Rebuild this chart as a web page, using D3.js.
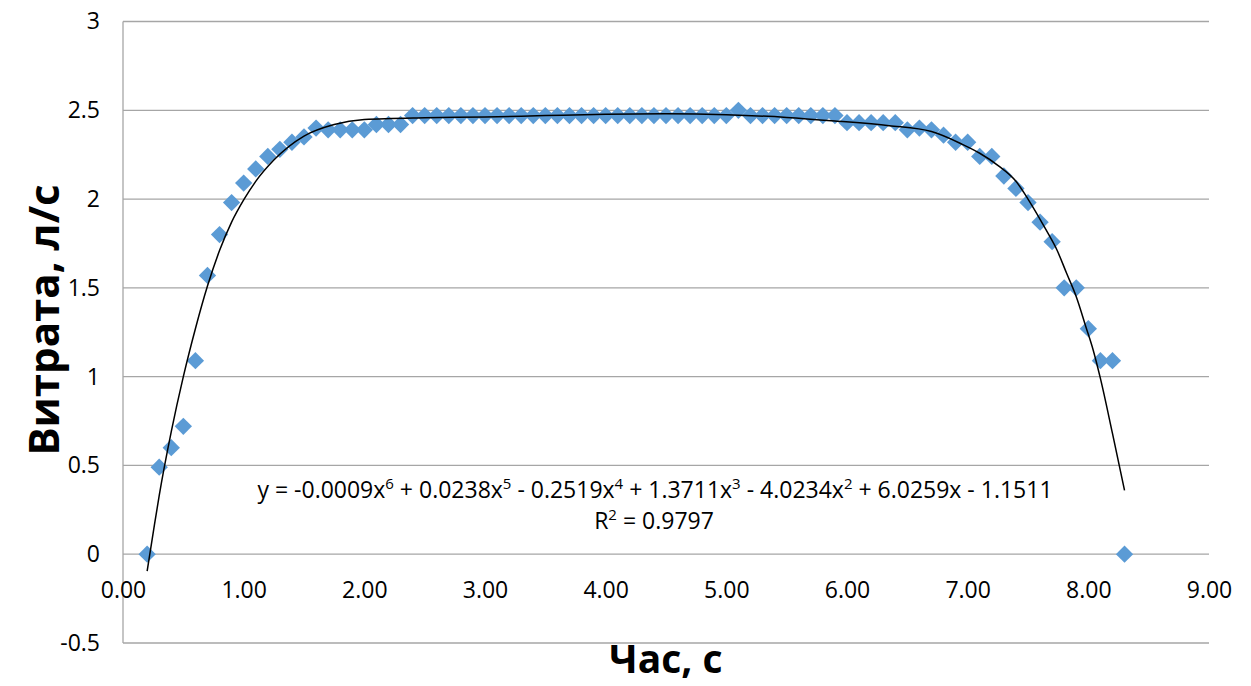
<!DOCTYPE html>
<html>
<head>
<meta charset="utf-8">
<script src="https://cdn.jsdelivr.net/npm/d3@7"></script>
<style>
  body { margin: 0; background: #fff; }
  text { font-family: "Open Sans", sans-serif; fill: #000; }
</style>
</head>
<body>
<div id="chart"></div>
<script>
// measured points: time (s) and flow (l/s)
var timeS = [0.2, 0.3, 0.4, 0.5, 0.6, 0.7, 0.8, 0.9, 1.0, 1.1, 1.2, 1.3, 1.4, 1.5, 1.6, 1.7, 1.8, 1.9, 2.0, 2.1,
  2.2, 2.3, 2.4, 2.5, 2.6, 2.7, 2.8, 2.9, 3.0, 3.1, 3.2, 3.3, 3.4, 3.5, 3.6, 3.7, 3.8, 3.9, 4.0, 4.1,
  4.2, 4.3, 4.4, 4.5, 4.6, 4.7, 4.8, 4.9, 5.0, 5.1, 5.2, 5.3, 5.4, 5.5, 5.6, 5.7, 5.8, 5.9, 6.0, 6.1,
  6.2, 6.3, 6.4, 6.5, 6.6, 6.7, 6.8, 6.9, 7.0, 7.1, 7.2, 7.3, 7.4, 7.5, 7.6, 7.7, 7.8, 7.9, 8.0, 8.1,
  8.2, 8.3];
var flow = [0, 0.49, 0.60, 0.72, 1.09, 1.57, 1.80, 1.98, 2.09, 2.17, 2.24, 2.28, 2.32, 2.35, 2.40, 2.39, 2.39, 2.39, 2.39, 2.42,
  2.42, 2.42, 2.47, 2.47, 2.47, 2.47, 2.47, 2.47, 2.47, 2.47, 2.47, 2.47, 2.47, 2.47, 2.47, 2.47, 2.47, 2.47, 2.47, 2.47,
  2.47, 2.47, 2.47, 2.47, 2.47, 2.47, 2.47, 2.47, 2.47, 2.50, 2.47, 2.47, 2.47, 2.47, 2.47, 2.47, 2.47, 2.47, 2.43, 2.43,
  2.43, 2.43, 2.43, 2.39, 2.40, 2.39, 2.36, 2.32, 2.32, 2.24, 2.24, 2.13, 2.06, 1.98, 1.87, 1.76, 1.50, 1.50, 1.27, 1.09,
  1.09, 0];

// polynomial trendline
var trendX = [0.2, 0.25, 0.3, 0.4, 0.5, 0.6, 0.7, 0.8, 0.9, 1.0, 1.1, 1.25, 1.5, 1.75, 2.0, 2.5, 3.0, 3.5, 4.0, 4.5,
  5.0, 5.5, 5.9, 6.35, 6.7, 6.95, 7.1, 7.25, 7.4, 7.5, 7.65, 7.74, 7.82, 7.9, 7.98, 8.04, 8.1, 8.2, 8.3];
var trendY = [-0.095, 0.12, 0.33, 0.69, 1.0, 1.27, 1.51, 1.71, 1.87, 1.995, 2.10, 2.22, 2.355, 2.42, 2.448, 2.458, 2.462, 2.47, 2.477, 2.48,
  2.475, 2.46, 2.44, 2.413, 2.38, 2.31, 2.258, 2.19, 2.10, 2.0, 1.826, 1.713, 1.582, 1.45, 1.28, 1.15, 0.99, 0.68, 0.36];

var xTicks = [0, 1, 2, 3, 4, 5, 6, 7, 8, 9];
var xTickLabels = ["0.00", "1.00", "2.00", "3.00", "4.00", "5.00", "6.00", "7.00", "8.00", "9.00"];
var yTicks = [-0.5, 0, 0.5, 1, 1.5, 2, 2.5, 3];
var yTickLabels = ["-0.5", "0", "0.5", "1", "1.5", "2", "2.5", "3"];

var eqParts = [["y = -0.0009x", "6"], [" + 0.0238x", "5"], [" - 0.2519x", "4"], [" + 1.3711x", "3"],
  [" - 4.0234x", "2"], [" + 6.0259x - 1.1511", ""]];

var svgWidth = 1251;
var svgHeight = 686;
var margin = { top: 21.5, right: 42, bottom: 43, left: 123 };
var width = svgWidth - margin.left - margin.right;
var height = svgHeight - margin.top - margin.bottom;

var svg = d3.select("#chart")
  .append("svg")
  .attr("width", svgWidth)
  .attr("height", svgHeight);

var chartGroup = svg.append("g")
  .attr("transform", `translate(${margin.left}, ${margin.top})`);

var x = d3.scaleLinear().domain([0, 9]).range([0, width]);
var y = d3.scaleLinear().domain([-0.5, 3]).range([height, 0]);

// gridlines
chartGroup.append("g")
  .selectAll("line")
  .data(yTicks)
  .enter()
  .append("line")
  .attr("x1", 0)
  .attr("x2", width)
  .attr("y1", d => y(d))
  .attr("y2", d => y(d))
  .attr("stroke", "#a6a6a6")
  .attr("stroke-width", 1.3);

// vertical axis line
chartGroup.append("line")
  .attr("x1", 0).attr("x2", 0)
  .attr("y1", 0).attr("y2", height)
  .attr("stroke", "#a6a6a6")
  .attr("stroke-width", 1.3);

// axes (labels only)
var leftAxis = d3.axisLeft(y)
  .tickValues(yTicks)
  .tickFormat((d, i) => yTickLabels[i])
  .tickSize(0)
  .tickPadding(23);

var bottomAxis = d3.axisBottom(x)
  .tickValues(xTicks)
  .tickFormat((d, i) => xTickLabels[i])
  .tickSize(0)
  .tickPadding(27);

var yAxisG = chartGroup.append("g").call(leftAxis);
var xAxisG = chartGroup.append("g")
  .attr("transform", `translate(0, ${y(0)})`)
  .call(bottomAxis);

[yAxisG, xAxisG].forEach(function(g) {
  g.select(".domain").remove();
  g.selectAll("text")
    .attr("font-family", "Open Sans, sans-serif")
    .attr("font-size", 23)
    .attr("fill", "#000");
});

// markers
var diamond = d3.symbol().type(d3.symbolSquare).size(150);
chartGroup.append("g")
  .selectAll("path")
  .data(timeS)
  .enter()
  .append("path")
  .attr("d", diamond)
  .attr("transform", (d, i) => `translate(${x(d)}, ${y(flow[i])}) rotate(45)`)
  .attr("fill", "#5b9bd5");

// trendline
var trendLine = d3.line()
  .x((d, i) => x(trendX[i]))
  .y(d => y(d))
  .curve(d3.curveMonotoneX);

chartGroup.append("path")
  .datum(trendY)
  .attr("d", trendLine)
  .attr("fill", "none")
  .attr("stroke", "#000")
  .attr("stroke-width", 1.5);

// equation label
var eq = svg.append("text")
  .attr("x", 655)
  .attr("y", 498)
  .attr("text-anchor", "middle")
  .attr("font-size", 23);

var raised = false;
eqParts.forEach(function(p) {
  eq.append("tspan").attr("dy", raised ? 9 : 0).text(p[0]);
  raised = false;
  if (p[1]) {
    eq.append("tspan").attr("dy", -9).attr("font-size", 15).text(p[1]);
    raised = true;
  }
});

var r2 = svg.append("text")
  .attr("x", 654)
  .attr("y", 529)
  .attr("text-anchor", "middle")
  .attr("font-size", 23);
r2.append("tspan").text("R");
r2.append("tspan").attr("dy", -9).attr("font-size", 15).text("2");
r2.append("tspan").attr("dy", 9).text(" = 0.9797");

// axis titles
svg.append("text")
  .attr("transform", "translate(59, 320) rotate(-90)")
  .attr("text-anchor", "middle")
  .attr("font-size", 42)
  .attr("font-weight", "bold")
  .text("Витрата, л/с");

svg.append("text")
  .attr("x", 666)
  .attr("y", 673)
  .attr("text-anchor", "middle")
  .attr("font-size", 39)
  .attr("font-weight", "bold")
  .text("Час, с");
</script>
</body>
</html>
